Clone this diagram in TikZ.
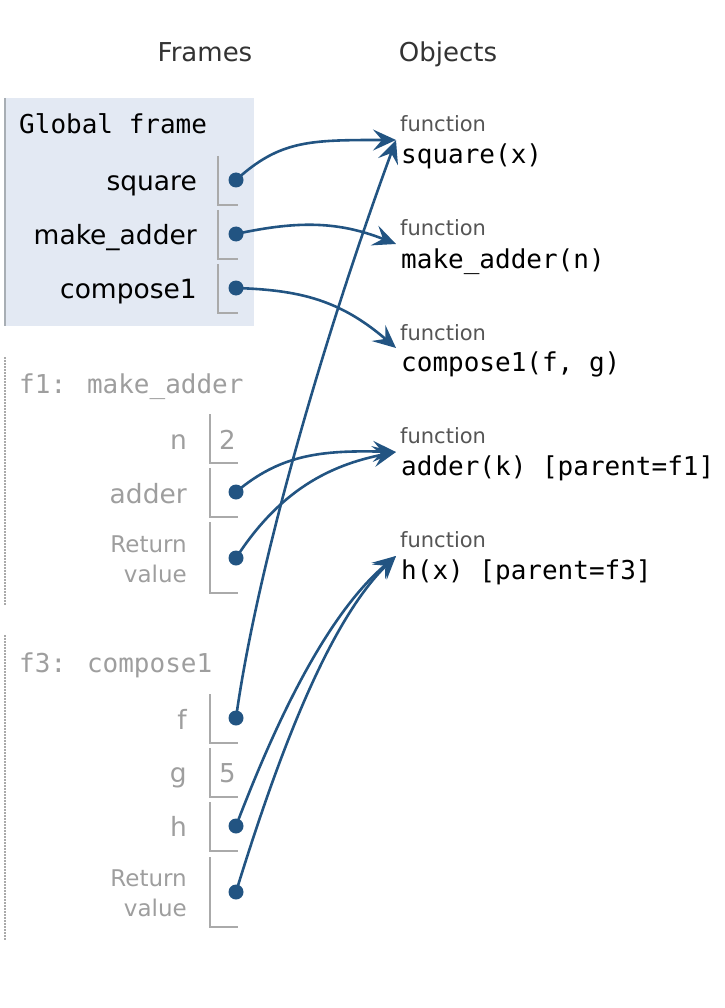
\documentclass[tikz,border=0pt]{standalone}
\usepackage{fontspec}
\setmainfont{DejaVu Sans}
\newfontfamily\codefont{DejaVu Sans Mono}
\usetikzlibrary{arrows.meta}
\definecolor{ptr}{HTML}{225482}
\definecolor{framebg}{HTML}{E3E9F3}
\definecolor{frameborder}{HTML}{A8AEB4}
\definecolor{boxgray}{HTML}{AAAAAA}
\definecolor{inactive}{HTML}{9E9E9E}
\definecolor{typelab}{HTML}{555555}
\definecolor{hdr}{HTML}{333333}
\begin{document}
\begin{tikzpicture}[x=1pt,y=-1pt,
  hdrtext/.style={font=\fontsize{26}{30}\selectfont, text=hdr, inner sep=0, anchor=base},
  varname/.style={font=\fontsize{26.5}{30}\selectfont, inner sep=0, anchor=base east},
  retname/.style={font=\fontsize{23}{30}\selectfont, inner sep=0, anchor=base east},
  valtext/.style={font=\fontsize{26}{30}\selectfont, text=inactive, inner sep=0, anchor=base west},
  frametitle/.style={font=\codefont\fontsize{26}{30}\selectfont, inner sep=0, anchor=base west},
  typelabel/.style={font=\fontsize{21}{24}\selectfont, text=typelab, inner sep=0, anchor=base west},
  codetext/.style={font=\codefont\fontsize{26}{30}\selectfont, inner sep=0, anchor=base west},
  boxline/.style={draw=boxgray, line width=2},
  dot/.style={circle, fill=ptr, minimum size=15pt, inner sep=0},
  ptrline/.style={draw=ptr, line width=2.6, -{Stealth[length=23pt,width=21pt,inset=9pt]}}
]
\useasboundingbox (0,0) rectangle (724,1008);

% headers
\node[hdrtext] (hframes) at (205,62) {Frames};
\node[hdrtext] (hobjects) at (448,62) {Objects};

% global frame
\fill[framebg] (4,98) rectangle (254,326);
\draw[frameborder, line width=2.5] (5,98) -- (5,326);
\node[frametitle] (gtitle) at (19,134) {Global frame};
\node[varname] (nsq) at (197,191) {square};
\node[varname] (nma) at (197,244) {make\_adder};
\node[varname] (nco) at (197,298) {compose1};
\draw[boxline] (218,156) |- (238,205);
\draw[boxline] (218,210) |- (238,259);
\draw[boxline] (218,264) |- (238,313);
\node[dot] (dsq) at (236,180) {};
\node[dot] (dma) at (236,234) {};
\node[dot] (dco) at (236,288) {};

% f1 frame
\draw[boxgray, line width=1.5, dash pattern=on 1.5pt off 1.5pt] (5,357) -- (5,605);
\node[frametitle, text=inactive] (f1title) at (19,393) {f1: make\_adder};
\node[varname, text=inactive] (nn) at (187,449) {n};
\node[varname, text=inactive] (nad) at (187,503) {adder};
\node[retname, text=inactive] (nr1a) at (187,552) {Return};
\node[retname, text=inactive] (nr1b) at (187,582) {value};
\draw[boxline] (210,414) |- (238,463);
\draw[boxline] (210,468) |- (238,517);
\draw[boxline] (210,522) |- (238,593);
\node[valtext] (vn) at (219,449) {2};
\node[dot] (dad) at (236,492) {};
\node[dot] (dr1) at (236,558) {};

% f3 frame
\draw[boxgray, line width=1.5, dash pattern=on 1.5pt off 1.5pt] (5,635) -- (5,940);
\node[frametitle, text=inactive] (f3title) at (19,672) {f3: compose1};
\node[varname, text=inactive] (nf) at (187,729) {f};
\node[varname, text=inactive] (ng) at (187,782) {g};
\node[varname, text=inactive] (nh) at (187,836) {h};
\node[retname, text=inactive] (nr3a) at (187,886) {Return};
\node[retname, text=inactive] (nr3b) at (187,916) {value};
\draw[boxline] (210,694) |- (238,743);
\draw[boxline] (210,748) |- (238,797);
\draw[boxline] (210,802) |- (238,851);
\draw[boxline] (210,857) |- (238,927);
\node[valtext] (vg) at (219,782) {5};
\node[dot] (df) at (236,718) {};
\node[dot] (dh) at (236,826) {};
\node[dot] (dr3) at (236,892) {};

% objects
\node[typelabel] (t1) at (400,132) {function};
\node[codetext] (c1) at (401,164) {square(x)};
\node[typelabel] (t2) at (400,236) {function};
\node[codetext] (c2) at (401,268) {make\_adder(n)};
\node[typelabel] (t3) at (400,340) {function};
\node[codetext] (c3) at (401,371) {compose1(f, g)};
\node[typelabel] (t4) at (400,443) {function};
\node[codetext] (c4) at (401,475) {adder(k) [parent=f1]};
\node[typelabel] (t5) at (400,547) {function};
\node[codetext] (c5) at (401,579) {h(x) [parent=f3]};

\coordinate (o1) at (396,140);
\coordinate (o2) at (396,244);
\coordinate (o3) at (396,348);
\coordinate (o4) at (396,452);
\coordinate (o5) at (396,556);

% pointers
\draw[ptrline] (dsq.center) .. controls (280,140) and (310,140) .. (o1);
\draw[ptrline] (dma.center) .. controls (300,220) and (340,222) .. (o2);
\draw[ptrline] (dco.center) .. controls (300,290) and (340,300) .. (o3);
\draw[ptrline] (dad.center) .. controls (280,455) and (320,450) .. (o4);
\draw[ptrline] (dr1.center) .. controls (280,490) and (330,465) .. (o4);
\draw[ptrline] (df.center) .. controls (258,560) and (328,325) .. (o1);
\draw[ptrline] (dh.center) .. controls (267,745) and (320,620) .. (o5);
\draw[ptrline] (dr3.center) .. controls (273,772) and (325,625) .. (o5);
\end{tikzpicture}
\end{document}
